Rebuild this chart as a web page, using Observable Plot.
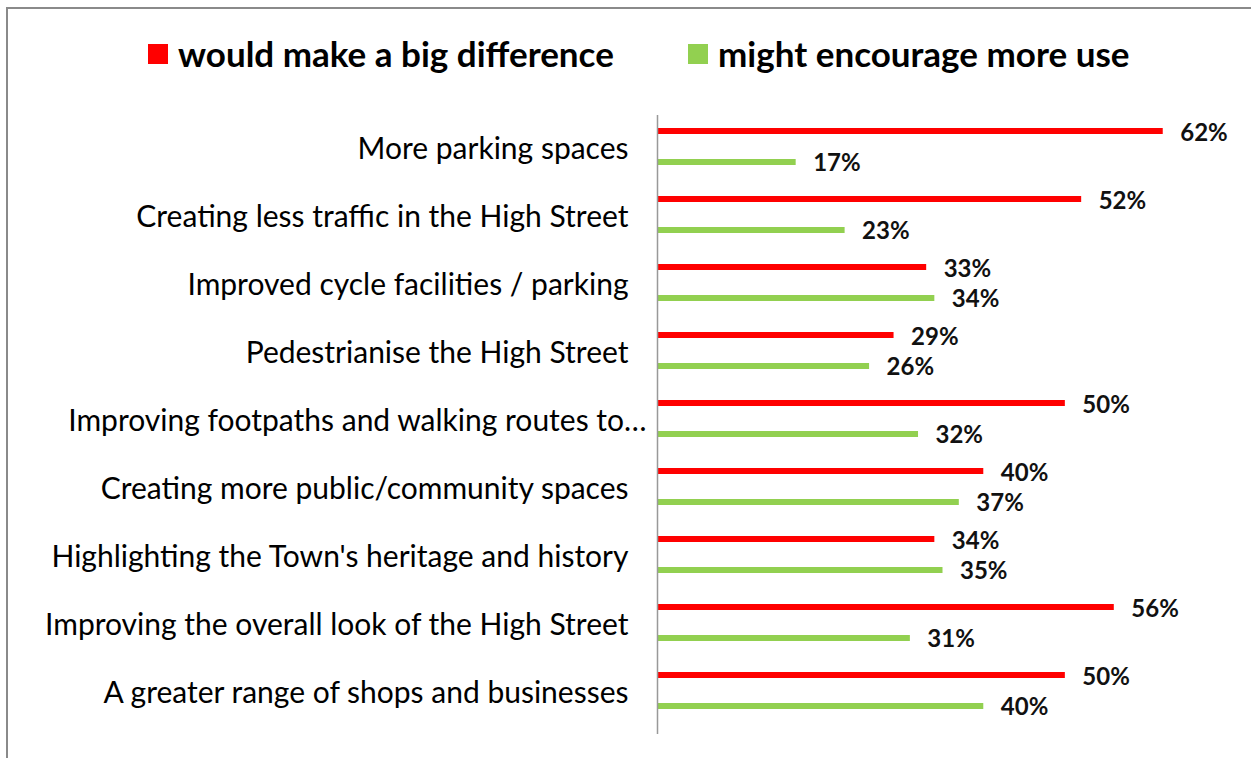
<!DOCTYPE html>
<html>
<head>
<meta charset="utf-8">
<script src="https://cdn.jsdelivr.net/npm/d3@7"></script>
<script src="https://cdn.jsdelivr.net/npm/@observablehq/plot@0.6"></script>
<style>
  html, body { margin: 0; padding: 0; background: #fff; }
  body { position: relative; width: 1251px; height: 758px; overflow: hidden; font-family: Lato, "Open Sans", sans-serif; }
  #frame { position: absolute; left: 6px; top: 7px; width: 1400px; height: 900px;
           border-top: 2px solid #8a8a8a; border-left: 2px solid #8a8a8a; pointer-events: none; }
  #legend { position: relative; height: 100px; }
  .sw { position: absolute; width: 20px; height: 20px; top: 44px; }
  .lt { position: absolute; top: 33px; font-size: 35px; font-weight: 700; color: #000; line-height: 40px; white-space: nowrap; }
  #chart svg { display: block; }
</style>
</head>
<body>
<div id="legend"></div>
<div id="chart"></div>
<div id="frame"></div>
<script>
const categories = [
  "More parking spaces",
  "Creating less traffic in the High Street",
  "Improved cycle facilities / parking",
  "Pedestrianise the High Street",
  "Improving footpaths and walking routes to…",
  "Creating more public/community spaces",
  "Highlighting the Town's heritage and history",
  "Improving the overall look of the High Street",
  "A greater range of shops and businesses"
];
const seriesNames = ["would make a big difference", "might encourage more use"];
const seriesColors = ["#ff0000", "#92d050"];
const bigDifference = [62, 52, 33, 29, 50, 40, 34, 56, 50];
const encourageUse = [17, 23, 34, 26, 32, 37, 35, 31, 40];

const redData = categories.map((c, i) => ({category: c, value: bigDifference[i]}));
const greenData = categories.map((c, i) => ({category: c, value: encourageUse[i]}));

// legend
const legend = document.getElementById("legend");
const legendPos = [{sw: 148, tx: 178}, {sw: 688, tx: 718}];
seriesNames.forEach((name, i) => {
  const s = document.createElement("div");
  s.className = "sw"; s.style.left = legendPos[i].sw + "px"; s.style.background = seriesColors[i];
  legend.appendChild(s);
  const t = document.createElement("div");
  t.className = "lt"; t.style.left = legendPos[i].tx + "px"; t.textContent = name;
  legend.appendChild(t);
});

const font = "Lato, 'Open Sans', sans-serif";
const truncated = categories.filter(d => d.endsWith("…"));
const full = categories.filter(d => !d.endsWith("…"));
const chart = Plot.plot({
  width: 1251,
  height: 658,
  marginLeft: 657,
  marginRight: 23,
  marginTop: 15,
  marginBottom: 24,
  style: {fontFamily: font, background: "#fff", color: "#000"},
  x: {domain: [0, 70], axis: null},
  y: {type: "band", domain: categories, range: [8, 627], padding: 0, axis: null},
  marks: [
    Plot.ruleY(redData, {y: "category", x1: 0, x2: "value", stroke: seriesColors[0], strokeWidth: 6, dy: -15.5}),
    Plot.ruleY(greenData, {y: "category", x1: 0, x2: "value", stroke: seriesColors[1], strokeWidth: 6, dy: 15.5}),
    Plot.text(redData, {y: "category", x: "value", text: d => d.value + "%", textAnchor: "start", dx: 17, dy: -13.5,
      fontSize: 24, fontWeight: 700, fill: "#111"}),
    Plot.text(greenData, {y: "category", x: "value", text: d => d.value + "%", textAnchor: "start", dx: 17, dy: 17,
      fontSize: 24, fontWeight: 700, fill: "#111"}),
    Plot.text(full, {y: d => d, frameAnchor: "left", text: d => d, textAnchor: "end", dx: -29, dy: 3,
      fontSize: 30, fill: "#000"}),
    Plot.text(truncated, {y: d => d, frameAnchor: "left", text: d => d, textAnchor: "end", dx: -11, dy: 3,
      fontSize: 30, fill: "#000"}),
    Plot.ruleX([0], {stroke: "#999", strokeWidth: 1.5})
  ]
});
document.getElementById("chart").appendChild(chart);
</script>
</body>
</html>
